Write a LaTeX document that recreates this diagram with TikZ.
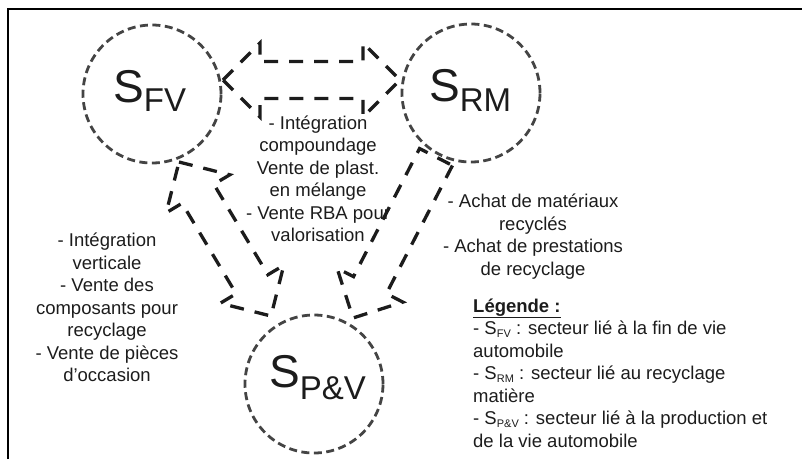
\documentclass[tikz,border=0pt]{standalone}
\usepackage{fontspec}
\setmainfont{Liberation Sans}
\usetikzlibrary{calc}
\definecolor{ink}{HTML}{1C1C1C}
\definecolor{circgray}{HTML}{444444}
\newcommand\mysub[1]{\raisebox{-3pt}{\fontsize{11}{11}\selectfont #1}}
\newcommand\bigsub[2]{{\fontsize{46}{46}\selectfont S}\raisebox{-#2}{\fontsize{33}{33}\selectfont #1}}
\newcommand\dblarrow[2]{%
\draw[blockarrow] (#1)
 -- ($(#1)!37pt!(#2)!37pt!90:(#2)$)
 -- ($(#1)!37pt!(#2)!18.5pt!90:(#2)$)
 -- ($(#2)!37pt!(#1)!18.5pt!-90:(#1)$)
 -- ($(#2)!37pt!(#1)!37pt!-90:(#1)$)
 -- (#2)
 -- ($(#2)!37pt!(#1)!37pt!90:(#1)$)
 -- ($(#2)!37pt!(#1)!18.5pt!90:(#1)$)
 -- ($(#1)!37pt!(#2)!18.5pt!-90:(#2)$)
 -- ($(#1)!37pt!(#2)!37pt!-90:(#2)$)
 -- cycle;}
\newcommand\onearrow[2]{%
\draw[blockarrow] ($(#1)!18.5pt!90:(#2)$)
 -- ($(#2)!37pt!(#1)!18.5pt!-90:(#1)$)
 -- ($(#2)!37pt!(#1)!37pt!-90:(#1)$)
 -- (#2)
 -- ($(#2)!37pt!(#1)!37pt!90:(#1)$)
 -- ($(#2)!37pt!(#1)!18.5pt!90:(#1)$)
 -- ($(#1)!18.5pt!-90:(#2)$)
 -- cycle;}
\begin{document}
\begin{tikzpicture}[x=1pt,y=-1pt,
  circ/.style={circle, draw=circgray, line width=2.8pt, dash pattern=on 8pt off 4.5pt, minimum size=138pt, inner sep=0pt},
  blockarrow/.style={draw=ink, line width=3.3pt, dash pattern=on 14pt off 11pt, line join=miter},
  txt/.style={font=\fontsize{18.5}{22.5}\selectfont, text=ink, align=center, inner sep=0pt},
  biglabel/.style={text=ink, inner sep=0pt, anchor=base west}]
\useasboundingbox (0,0) rectangle (802,459);
% frame
\draw[line width=2.5pt, line join=miter] (8,459) -- (8,9) -- (802,9);
% sectors
\node[circ] (fv) at (152,94) {};
\node[circ] (rm) at (471,93) {};
\node[circ] (pv) at (314,384) {};
\node[biglabel] (lfv) at (113,102) {\bigsub{FV}{9pt}};
\node[biglabel] (lrm) at (429,101) {\bigsub{RM}{10pt}};
\node[biglabel] (lpv) at (269,387) {\bigsub{P\&V}{12pt}};
% block arrows
\coordinate (t1) at (223,80);  \coordinate (t2) at (400,80);
\coordinate (l1) at (179,162); \coordinate (l2) at (271,316);
\coordinate (r1) at (436,157); \coordinate (r2) at (353,318);
\dblarrow{t1}{t2}
\dblarrow{l1}{l2}
\onearrow{r1}{r2}
% texts
\node[txt] (ctext) at (318,179) {- Intégration\\compoundage\\Vente de plast.\\en mélange\\- Vente RBA pour\\valorisation};
\node[txt] (ltext) at (107,307.5) {- Intégration\\verticale\\- Vente des\\composants pour\\recyclage\\- Vente de pièces\\d'occasion};
\node[txt] (rtext) at (533,236.5) {- Achat de matériaux\\recyclés\\- Achat de prestations\\de recyclage};
\node[txt, align=left, anchor=west] (legend) at (473,373) {\underline{\textbf{Légende :}}\\- S\mysub{FV} : secteur lié à la fin de vie\\automobile\\- S\mysub{RM} : secteur lié au recyclage\\matière\\- S\mysub{P\&V} : secteur lié à la production et\\de la vie automobile};
\end{tikzpicture}
\end{document}
